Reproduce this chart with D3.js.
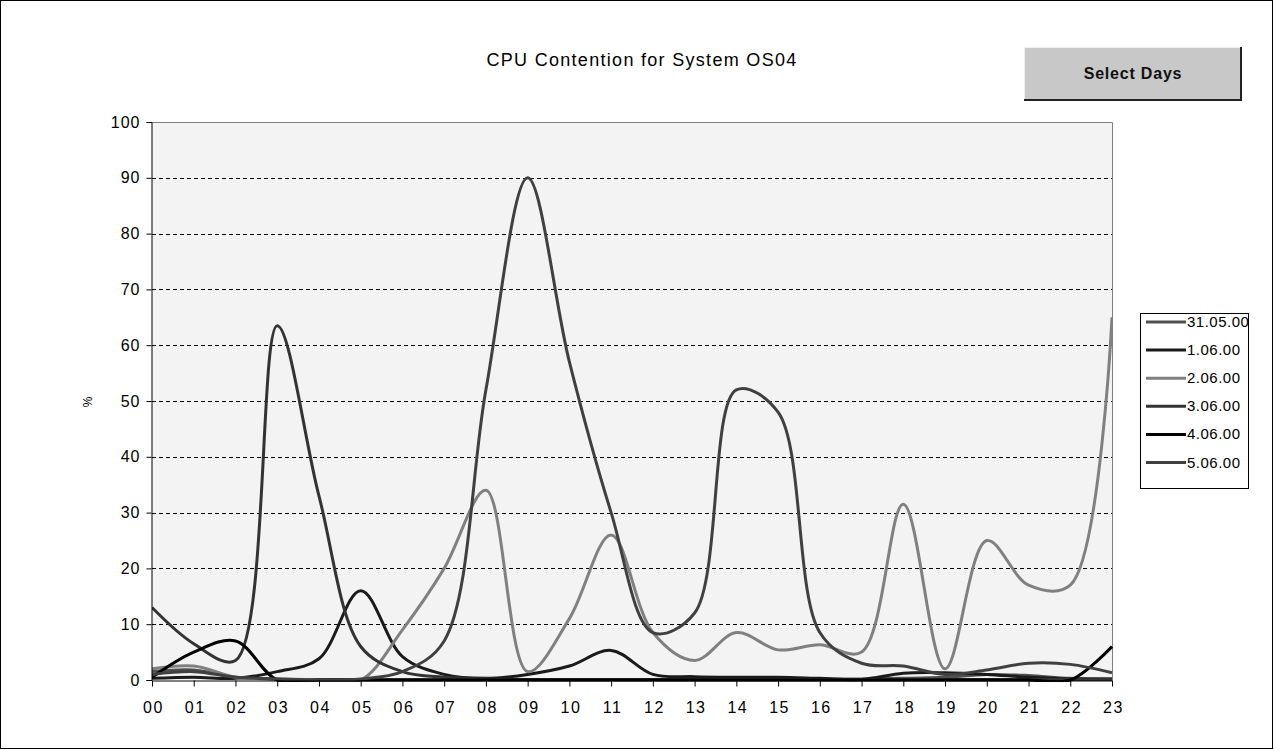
<!DOCTYPE html>
<html>
<head>
<meta charset="utf-8">
<script src="https://cdn.jsdelivr.net/npm/d3@7"></script>
<style>
  body { margin: 0; background: #fff; }
  svg { display: block; font-family: "Liberation Sans", Arial, sans-serif; }
</style>
</head>
<body>
<svg id="chart" width="1274" height="750"></svg>
<script>
// hours of the day (category axis)
var hours = ['00', '01', '02', '03', '04', '05', '06', '07', '08', '09', '10', '11',
    '12', '13', '14', '15', '16', '17', '18', '19', '20', '21', '22', '23'];

var yTicks = [0, 10, 20, 30, 40, 50, 60, 70, 80, 90, 100];

// CPU contention % per day
var day3105 = [1.5, 1.8, 0.5, 0.2, 0.1, 0.1, 0.1, 0.1, 0.1, 0.1, 0.1, 0.1,
    0.1, 0.2, 0.2, 0.2, 0.2, 0.2, 0.3, 0.5, 1, 0.8, 0.3, 0.2];
var day0106 = [0.3, 0.5, 0.3, 1.5, 3.8, 16, 4.2, 1, 0.3, 1, 2.5, 5.3,
    1, 0.6, 0.5, 0.5, 0.3, 0.1, 1.2, 1.3, 1, 0.5, 0.2, 0.2];
var day0206 = [2, 2.5, 0.5, 0.2, 0, 0, 9, 20, 34, 1.5, 11, 26,
    8.5, 3.5, 8.5, 5.4, 6.3, 5, 31.5, 2, 25, 17, 17, 65];
var day0306 = [13, 6.5, 3.5, 63.5, 33, 6, 1.5, 0.5, 0.2, 0.1, 0.1, 0.1,
    0.1, 0.1, 0.1, 0.1, 0.1, 0.1, 0.1, 0.1, 0.1, 0.1, 0.1, 0.1];
var day0406 = [0.5, 5, 7, 0, 0, 0, 0, 0, 0, 0, 0, 0,
    0, 0, 0, 0, 0, 0, 0, 0, 0, 0, 0, 6];
var day0506 = [1, 1.5, 0.5, 0.2, 0, 0.2, 1.5, 7, 52, 90, 57, 30,
    8.5, 12, 52, 48, 8.5, 3, 2.5, 1, 1.8, 3, 2.8, 1.3];

var seriesNames = ['31.05.00', '1.06.00', '2.06.00', '3.06.00', '4.06.00', '5.06.00'];
var seriesValues = [day3105, day0106, day0206, day0306, day0406, day0506];
var seriesColors = ['#505050', '#1a1a1a', '#808080', '#333333', '#000000', '#404040'];

var svg = d3.select('#chart');

var plotLeft = 152, plotRight = 1112, plotTop = 122, plotBottom = 680;

var x = d3.scalePoint().domain(hours).range([plotLeft, plotRight]);
var y = d3.scaleLinear().domain([0, 100]).range([plotBottom, plotTop]);

// outer frame
svg.append('rect')
    .attr('x', 0.5).attr('y', 0.5)
    .attr('width', 1272).attr('height', 748)
    .attr('fill', '#fff')
    .attr('stroke', '#000');

// title
svg.append('text')
    .attr('x', 642).attr('y', 66)
    .attr('text-anchor', 'middle')
    .attr('font-size', 18)
    .attr('letter-spacing', 1.3)
    .attr('fill', '#000')
    .text('CPU Contention for System OS04');

// button
var btn = svg.append('g');
btn.append('rect')
    .attr('x', 1024).attr('y', 47)
    .attr('width', 218).attr('height', 54)
    .attr('fill', '#c8c8c8');
btn.append('path')
    .attr('d', 'M1024.5,100 L1024.5,47.5 L1241,47.5')
    .attr('fill', 'none').attr('stroke', '#f0f0f0');
btn.append('path')
    .attr('d', 'M1024,100 L1241,100 L1241,47')
    .attr('fill', 'none').attr('stroke', '#222').attr('stroke-width', 2);
btn.append('text')
    .attr('x', 1133).attr('y', 79)
    .attr('text-anchor', 'middle')
    .attr('font-size', 16)
    .attr('letter-spacing', 0.8)
    .attr('font-weight', 'bold')
    .attr('fill', '#111')
    .text('Select Days');

// plot area
svg.append('rect')
    .attr('x', plotLeft).attr('y', plotTop)
    .attr('width', plotRight - plotLeft).attr('height', plotBottom - plotTop)
    .attr('fill', '#f3f3f3');
svg.append('path')
    .attr('d', `M${plotLeft},${plotTop + 0.5} L${plotRight + 0.5},${plotTop + 0.5} L${plotRight + 0.5},${plotBottom}`)
    .attr('fill', 'none').attr('stroke', '#808080');

// gridlines
svg.append('g')
    .selectAll('line')
    .data(yTicks.filter(function (d) { return d > 0 && d < 100; }))
    .join('line')
    .attr('x1', plotLeft).attr('x2', plotRight)
    .attr('y1', function (d) { return Math.round(y(d)) + 0.5; })
    .attr('y2', function (d) { return Math.round(y(d)) + 0.5; })
    .attr('stroke', '#000')
    .attr('stroke-dasharray', '4,3');

// lines
svg.append('clipPath').attr('id', 'plotClip')
    .append('rect')
    .attr('x', plotLeft).attr('y', plotTop)
    .attr('width', plotRight - plotLeft + 1).attr('height', plotBottom - plotTop + 2);

var line = d3.line()
    .x(function (d, i) { return x(hours[i]); })
    .y(function (d) { return y(d); })
    .curve(d3.curveCatmullRom.alpha(0.5));

svg.append('g')
    .attr('clip-path', 'url(#plotClip)')
    .selectAll('path')
    .data(seriesValues)
    .join('path')
    .attr('d', line)
    .attr('fill', 'none')
    .attr('stroke', function (d, i) { return seriesColors[i]; })
    .attr('stroke-width', 3)
    .attr('stroke-linejoin', 'round');

// axes
var yAxis = d3.axisLeft(y).tickValues(yTicks).tickSize(5).tickPadding(6);
var gy = svg.append('g')
    .attr('transform', `translate(${plotLeft - 0.5},0)`)
    .call(yAxis);
gy.select('.domain').attr('stroke', '#000');
gy.selectAll('text').attr('font-size', 16).attr('fill', '#000')
    .attr('letter-spacing', 1)
    .attr('font-family', '"Liberation Sans", Arial, sans-serif');

var xAxis = d3.axisBottom(x).tickSize(6).tickPadding(15).tickSizeOuter(0);
var gx = svg.append('g')
    .attr('transform', `translate(0,${plotBottom + 0.5})`)
    .call(xAxis);
gx.select('.domain').attr('stroke', '#000');
gx.selectAll('text').attr('font-size', 16).attr('fill', '#000')
    .attr('letter-spacing', 1.5).attr('dx', 1)
    .attr('font-family', '"Liberation Sans", Arial, sans-serif');

// y title
svg.append('text')
    .attr('transform', 'translate(92,402) rotate(-90)')
    .attr('text-anchor', 'middle')
    .attr('font-size', 12)
    .text('%');

// legend
var legend = svg.append('g');
legend.append('rect')
    .attr('x', 1140.5).attr('y', 313.5)
    .attr('width', 108).attr('height', 175)
    .attr('fill', '#fff')
    .attr('stroke', '#000');

var item = legend.selectAll('g.item')
    .data(seriesNames)
    .join('g')
    .attr('class', 'item')
    .attr('transform', function (d, i) { return `translate(0,${322 + i * 28.1})`; });

item.append('line')
    .attr('x1', 1146).attr('x2', 1186)
    .attr('stroke', function (d, i) { return seriesColors[i]; })
    .attr('stroke-width', 3);

item.append('text')
    .attr('x', 1187).attr('y', 5)
    .attr('font-size', 15)
    .attr('letter-spacing', 0.5)
    .attr('fill', '#000')
    .text(function (d) { return d; });
</script>
</body>
</html>
